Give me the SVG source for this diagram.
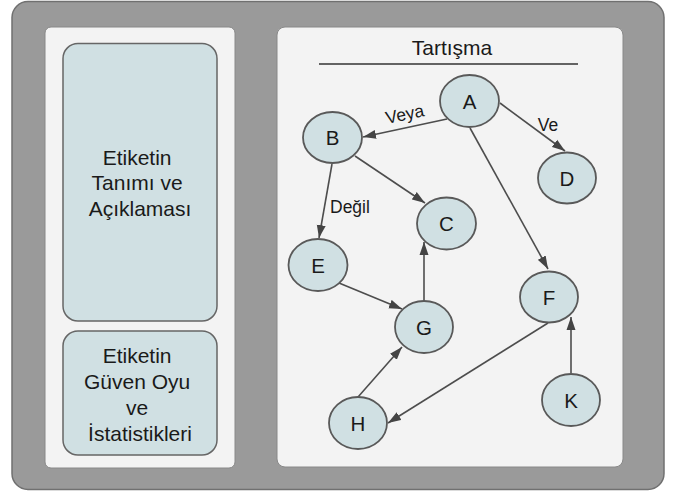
<svg xmlns="http://www.w3.org/2000/svg" width="681" height="492" viewBox="0 0 681 492">
  <defs>
    <marker id="arrow" markerUnits="userSpaceOnUse" markerWidth="14" markerHeight="10" viewBox="0 0 14 10" refX="13" refY="5" orient="auto">
      <path d="M0,0.5 L13,5 L0,9.5 z" fill="#444"/>
    </marker>
    <style>
      .txt { font-family: "Liberation Sans", Arial, sans-serif; fill: #1a1a1a; }
      .box { fill: #d0e0e3; stroke: #666; stroke-width: 1.5; }
      .node ellipse { fill: #d0e0e3; stroke: #595959; stroke-width: 1.8; }
      .node text { font-family: "Liberation Sans", Arial, sans-serif; font-size: 20.5px; fill: #1a1a1a; text-anchor: middle; }
      .edge { stroke: #4d4d4d; stroke-width: 1.6; fill: none; marker-end: url(#arrow); }
      .lbl { font-family: "Liberation Sans", Arial, sans-serif; font-size: 17.5px; fill: #1a1a1a; }
    </style>
  </defs>

  <!-- frame -->
  <rect x="12" y="1.5" width="652" height="488" rx="16" fill="#9a9a9a" stroke="#707070" stroke-width="1.5"/>

  <!-- left column -->
  <g id="left-panel">
    <rect x="45" y="27" width="190" height="441" rx="6" fill="#f3f3f3" stroke="#888" stroke-width="1"/>
  </g>
  <g id="tag-definition">
    <rect class="box" x="63" y="43.5" width="154" height="277.5" rx="15"/>
    <text class="txt" font-size="21" text-anchor="middle">
      <tspan x="140" y="164.5">Etiketin</tspan>
      <tspan x="140" y="190">Tanımı ve</tspan>
      <tspan x="140" y="215.5">Açıklaması</tspan>
    </text>
  </g>
  <g id="tag-votes">
    <rect class="box" x="63" y="331" width="154" height="124" rx="15"/>
    <text class="txt" font-size="21" text-anchor="middle">
      <tspan x="140" y="362.5">Etiketin</tspan>
      <tspan x="140" y="388.5">Güven Oyu</tspan>
      <tspan x="140" y="414.5">ve</tspan>
      <tspan x="140" y="440.5">İstatistikleri</tspan>
    </text>
  </g>

  <!-- discussion panel -->
  <g id="discussion-panel">
    <rect x="277" y="27" width="346" height="440" rx="8" fill="#f3f3f3" stroke="#888" stroke-width="1"/>
    <text class="txt" x="452" y="54.5" font-size="21" text-anchor="middle">Tartışma</text>
    <line x1="319" y1="64" x2="578" y2="64" stroke="#333" stroke-width="1.5"/>
  </g>

  <!-- connectors -->
  <g id="connectors">
    <line class="edge" x1="447" y1="119" x2="363" y2="137"/>
    <line class="edge" x1="500" y1="103" x2="565" y2="151"/>
    <line class="edge" x1="470" y1="128" x2="548" y2="269"/>
    <line class="edge" x1="332" y1="164" x2="319" y2="238"/>
    <line class="edge" x1="355" y1="156" x2="425" y2="203"/>
    <line class="edge" x1="339" y1="283" x2="402" y2="309"/>
    <line class="edge" x1="424" y1="301" x2="424" y2="242"/>
    <line class="edge" x1="358" y1="397" x2="402" y2="347"/>
    <line class="edge" x1="548" y1="323" x2="388" y2="423"/>
    <line class="edge" x1="571" y1="373" x2="571" y2="317"/>
    <text class="lbl" x="406" y="120" text-anchor="middle" transform="rotate(-12 406 120)">Veya</text>
    <text class="lbl" x="548" y="131" text-anchor="middle">Ve</text>
    <text class="lbl" x="330" y="213">Değil</text>
  </g>

  <!-- nodes -->
  <g id="node-A" class="node"><ellipse cx="469.5" cy="101" rx="29.5" ry="26"/><text x="469.5" y="108.5">A</text></g>
  <g id="node-B" class="node"><ellipse cx="332.5" cy="137.5" rx="29.5" ry="25.5"/><text x="332.5" y="145">B</text></g>
  <g id="node-C" class="node"><ellipse cx="446.5" cy="223.5" rx="29.5" ry="26"/><text x="446.5" y="231">C</text></g>
  <g id="node-D" class="node"><ellipse cx="567" cy="178" rx="29" ry="25.5"/><text x="567" y="185.5">D</text></g>
  <g id="node-E" class="node"><ellipse cx="318" cy="265" rx="29.5" ry="26"/><text x="318" y="272.5">E</text></g>
  <g id="node-F" class="node"><ellipse cx="549" cy="297" rx="29" ry="25.5"/><text x="549" y="304.5">F</text></g>
  <g id="node-G" class="node"><ellipse cx="424" cy="327" rx="29" ry="26"/><text x="424" y="334.5">G</text></g>
  <g id="node-H" class="node"><ellipse cx="358" cy="423" rx="29" ry="26"/><text x="358" y="430.5">H</text></g>
  <g id="node-K" class="node"><ellipse cx="571" cy="400" rx="29" ry="26"/><text x="571" y="407.5">K</text></g>
</svg>
